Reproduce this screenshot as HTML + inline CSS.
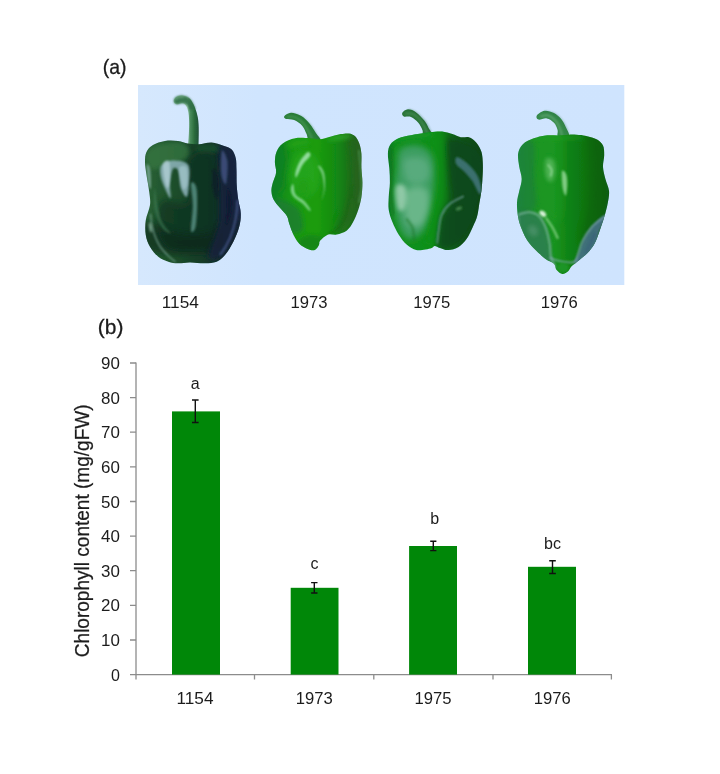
<!DOCTYPE html>
<html>
<head>
<meta charset="utf-8">
<title>Figure</title>
<style>
html,body{margin:0;padding:0;background:#fff;}
body{width:720px;height:774px;overflow:hidden;}
svg{display:block;}
text{font-family:"Liberation Sans",sans-serif;fill:#1c1c1c;}
</style>
</head>
<body>
<svg width="720" height="774" viewBox="0 0 720 774">
<defs>
<filter id="b1" x="-50%" y="-50%" width="200%" height="200%"><feGaussianBlur stdDeviation="1"/></filter>
<filter id="b2" x="-50%" y="-50%" width="200%" height="200%"><feGaussianBlur stdDeviation="2"/></filter>
<filter id="b3" x="-50%" y="-50%" width="200%" height="200%"><feGaussianBlur stdDeviation="3.2"/></filter>
<filter id="b5" x="-50%" y="-50%" width="200%" height="200%"><feGaussianBlur stdDeviation="5"/></filter>
<filter id="b8" x="-50%" y="-50%" width="200%" height="200%"><feGaussianBlur stdDeviation="8"/></filter>
<filter id="soft" x="-10%" y="-10%" width="120%" height="120%"><feGaussianBlur stdDeviation="0.6"/></filter>
<linearGradient id="bgg" x1="138" y1="0" x2="624" y2="0" gradientUnits="userSpaceOnUse"><stop offset="0" stop-color="#d6e8fd"/><stop offset="0.25" stop-color="#d0e5fe"/><stop offset="1" stop-color="#cfe4fe"/></linearGradient>
<!-- pepper 1 -->
<linearGradient id="p1g" x1="145" y1="0" x2="241" y2="0" gradientUnits="userSpaceOnUse">
<stop offset="0" stop-color="#2a6236"/><stop offset="0.25" stop-color="#1f522c"/><stop offset="0.55" stop-color="#163f28"/><stop offset="0.8" stop-color="#14302e"/><stop offset="0.92" stop-color="#1a2a40"/><stop offset="1" stop-color="#243254"/>
</linearGradient>
<clipPath id="p1c"><path id="p1body" d="M188.0,143.5 C184.5,143.0 181.8,141.4 178.0,141.0 C174.2,140.6 169.2,140.3 165.0,141.0 C160.8,141.7 156.1,143.2 153.0,145.0 C149.9,146.8 147.8,149.2 146.5,152.0 C145.2,154.8 145.0,158.2 145.0,162.0 C145.0,165.8 145.8,170.1 146.5,175.0 C147.2,179.9 148.6,186.7 149.2,191.7 C149.8,196.7 150.6,200.3 150.0,205.0 C149.4,209.7 146.5,215.0 145.8,220.0 C145.1,225.0 145.1,230.6 145.8,235.0 C146.5,239.4 147.9,243.1 150.0,246.7 C152.1,250.3 155.2,254.2 158.3,256.7 C161.4,259.2 165.0,260.6 168.3,261.7 C171.6,262.8 174.4,263.2 178.0,263.3 C181.6,263.4 185.5,262.5 190.0,262.5 C194.5,262.5 200.6,263.4 205.0,263.3 C209.4,263.2 213.4,263.1 216.7,261.7 C220.0,260.3 222.2,258.3 225.0,255.0 C227.8,251.7 230.9,246.4 233.3,241.7 C235.7,237.0 237.9,231.4 239.2,226.7 C240.4,222.0 241.0,217.8 240.8,213.3 C240.7,208.9 239.0,204.7 238.3,200.0 C237.6,195.3 237.0,190.0 236.7,185.0 C236.4,180.0 236.7,174.4 236.5,170.0 C236.3,165.6 236.6,161.7 235.8,158.3 C235.0,154.9 233.8,151.6 231.7,149.5 C229.6,147.4 226.6,147.0 223.3,145.8 C220.0,144.6 215.8,142.8 211.7,142.5 C207.6,142.2 202.8,144.0 198.8,144.2 C194.9,144.4 191.5,144.0 188.0,143.5Z"/></clipPath>
<linearGradient id="p1s" x1="186" y1="0" x2="200" y2="0" gradientUnits="userSpaceOnUse">
<stop offset="0.1" stop-color="#9ccbb0"/><stop offset="0.3" stop-color="#4a8c5c"/><stop offset="0.6" stop-color="#2a6c3c"/><stop offset="1" stop-color="#1c4836"/>
</linearGradient>
<!-- pepper 2 -->
<linearGradient id="p2g" x1="271" y1="0" x2="363" y2="0" gradientUnits="userSpaceOnUse">
<stop offset="0" stop-color="#0f8424"/><stop offset="0.25" stop-color="#1a9a12"/><stop offset="0.5" stop-color="#1c9c0e"/><stop offset="0.7" stop-color="#118a12"/><stop offset="0.88" stop-color="#1d6e1a"/><stop offset="1" stop-color="#2f6028"/>
</linearGradient>
<clipPath id="p2c"><path id="p2body" d="M309.7,138.3 C305.5,138.1 299.7,137.4 295.2,138.3 C290.7,139.1 285.9,141.2 282.8,143.5 C279.7,145.7 277.9,148.6 276.6,151.7 C275.2,154.8 275.0,158.6 274.9,162.1 C274.8,165.5 276.5,169.0 276.1,172.4 C275.8,175.9 273.6,179.7 272.8,182.8 C272.0,185.9 271.3,188.3 271.4,191.0 C271.5,193.8 272.1,196.6 273.4,199.3 C274.8,202.1 277.4,204.8 279.7,207.6 C281.9,210.4 285.3,213.1 286.9,215.9 C288.5,218.6 288.3,221.0 289.4,224.1 C290.5,227.3 291.7,231.2 293.3,234.5 C295.0,237.8 296.9,241.4 299.3,243.8 C301.7,246.2 305.0,247.9 307.6,249.0 C310.2,250.0 312.9,250.7 314.8,250.0 C316.7,249.3 318.1,246.4 319.0,244.8 C319.8,243.3 318.5,242.4 320.0,240.7 C321.6,239.0 325.5,235.5 328.3,234.5 C331.0,233.5 333.5,235.2 336.6,234.5 C339.7,233.8 344.1,232.4 346.9,230.4 C349.7,228.3 351.2,225.5 353.1,222.1 C355.0,218.6 356.9,213.8 358.3,209.7 C359.7,205.5 360.7,201.7 361.4,197.2 C362.1,192.8 362.4,187.6 362.4,182.8 C362.4,177.9 361.6,173.1 361.4,168.3 C361.2,163.5 361.7,157.9 361.4,153.8 C361.0,149.7 360.4,146.4 359.3,143.5 C358.3,140.5 356.9,137.9 355.2,136.2 C353.5,134.6 351.4,133.9 349.0,133.5 C346.6,133.2 344.1,133.5 340.7,134.1 C337.2,134.8 331.7,136.4 328.3,137.2 C324.8,138.1 323.1,139.1 320.0,139.3 C316.9,139.5 313.8,138.5 309.7,138.3Z"/></clipPath>
<!-- pepper 3 -->
<linearGradient id="p3g" x1="388" y1="0" x2="483" y2="0" gradientUnits="userSpaceOnUse">
<stop offset="0" stop-color="#0f7a26"/><stop offset="0.08" stop-color="#12901e"/><stop offset="0.5" stop-color="#10901a"/><stop offset="0.74" stop-color="#0f5a18"/><stop offset="1" stop-color="#0c4416"/>
</linearGradient>
<clipPath id="p3c"><path id="p3body" d="M423.9,133.1 C420.6,133.6 415.2,134.3 411.0,135.2 C406.8,136.0 402.1,136.7 398.6,138.3 C395.2,139.8 392.1,141.9 390.3,144.5 C388.6,147.1 388.0,149.8 387.9,153.8 C387.7,157.8 389.0,163.5 389.3,168.3 C389.7,173.1 390.0,177.9 389.9,182.8 C389.8,187.6 388.9,192.8 388.7,197.2 C388.5,201.7 388.1,205.5 388.7,209.7 C389.3,213.8 390.8,217.9 392.4,222.1 C394.1,226.2 396.2,230.7 398.6,234.5 C401.0,238.3 404.0,242.3 406.9,244.8 C409.8,247.4 413.1,249.3 416.2,250.0 C419.3,250.8 422.9,249.7 425.5,249.4 C428.1,249.0 430.2,248.5 431.7,247.9 C433.3,247.4 433.5,245.9 434.8,245.9 C436.2,245.9 437.8,247.3 440.0,247.9 C442.2,248.6 445.2,250.2 448.3,250.0 C451.4,249.8 455.5,248.8 458.6,246.9 C461.7,245.0 464.5,242.1 466.9,238.6 C469.3,235.2 471.4,230.0 473.1,226.2 C474.8,222.4 476.2,219.7 477.2,215.9 C478.3,212.1 478.6,207.6 479.3,203.5 C480.0,199.3 480.9,195.2 481.4,191.0 C481.9,186.9 482.2,183.1 482.4,178.6 C482.7,174.1 483.0,168.6 482.8,164.1 C482.7,159.7 482.5,155.3 481.4,151.7 C480.3,148.1 478.3,144.8 476.2,142.4 C474.1,140.0 471.6,138.1 469.0,137.2 C466.4,136.4 463.5,137.8 460.7,137.2 C457.9,136.7 455.5,135.1 452.4,134.1 C449.3,133.2 445.7,131.8 442.1,131.5 C438.5,131.1 433.7,131.8 430.7,132.1 C427.7,132.3 427.1,132.6 423.9,133.1Z"/></clipPath>
<!-- pepper 4 -->
<linearGradient id="p4g" x1="517" y1="0" x2="609" y2="0" gradientUnits="userSpaceOnUse">
<stop offset="0" stop-color="#1f8a3e"/><stop offset="0.12" stop-color="#1f9428"/><stop offset="0.4" stop-color="#1a9420"/><stop offset="0.55" stop-color="#108414"/><stop offset="0.78" stop-color="#0c7010"/><stop offset="1" stop-color="#0c5a14"/>
</linearGradient>
<clipPath id="p4c"><path id="p4body" d="M558.8,135.4 C555.0,135.5 549.8,134.9 545.6,135.4 C541.5,135.9 537.5,136.8 533.7,138.3 C529.9,139.7 525.5,141.6 522.9,144.2 C520.3,146.8 518.7,150.0 518.1,153.8 C517.6,157.6 518.7,162.8 519.3,166.9 C519.9,171.1 521.7,174.9 521.7,178.9 C521.7,182.9 520.1,186.9 519.3,190.8 C518.5,194.8 517.2,198.4 517.0,202.8 C516.8,207.2 517.4,212.8 518.1,217.1 C518.9,221.5 520.1,225.1 521.7,229.1 C523.3,233.1 525.3,237.5 527.7,241.0 C530.1,244.6 533.1,247.6 536.1,250.6 C539.1,253.6 542.7,256.8 545.6,259.0 C548.6,261.2 552.2,262.0 554.0,263.8 C555.8,265.6 555.0,268.0 556.4,269.7 C557.8,271.4 560.4,273.8 562.4,274.0 C564.4,274.2 566.8,272.2 568.4,270.9 C569.9,269.6 570.1,267.9 571.9,266.1 C573.7,264.4 576.5,262.4 579.1,260.2 C581.7,258.0 584.9,255.8 587.5,253.0 C590.1,250.2 592.7,247.0 594.6,243.4 C596.6,239.9 597.8,235.9 599.4,231.5 C601.0,227.1 602.8,221.9 604.2,217.1 C605.6,212.4 607.0,207.2 607.8,202.8 C608.6,198.4 609.4,194.8 609.0,190.8 C608.6,186.9 606.4,182.9 605.4,178.9 C604.4,174.9 603.2,170.9 603.0,166.9 C602.8,163.0 604.2,158.6 604.2,155.0 C604.2,151.4 604.2,148.0 603.0,145.4 C601.8,142.8 599.8,141.0 597.0,139.4 C594.3,137.9 589.7,136.7 586.3,135.9 C582.9,135.1 579.7,134.9 576.7,134.7 C573.7,134.5 571.3,134.5 568.4,134.7 C565.4,134.8 562.6,135.3 558.8,135.4Z"/></clipPath>
</defs>
<rect x="0" y="0" width="720" height="774" fill="#ffffff"/>

<!-- panel labels -->
<text x="102.8" y="74.4" font-size="21" textLength="23.8" lengthAdjust="spacingAndGlyphs" stroke="#1c1c1c" stroke-width="0.3">(a)</text>
<text x="97.8" y="334" font-size="21" textLength="25.6" lengthAdjust="spacingAndGlyphs" stroke="#1c1c1c" stroke-width="0.3">(b)</text>

<!-- photo background -->
<rect x="138" y="85" width="486.3" height="200" fill="url(#bgg)"/>

<g id="peppers">
<!-- pepper 1154 -->
<g filter="url(#soft)">
<path d="M187.8,146 C189,135 189.6,124 188.8,115.5 C188.2,109 186.5,104.5 183,103.3 C180.5,102.6 178.5,104.6 176.5,104.2 C174.2,103.6 173.3,101.6 174,99.5 C175.2,96.5 178.5,95.3 182,95.4 C186,95.6 189,97 191,100 C194.5,105 196.5,111 197.8,117.2 C198.6,122 198.8,127 198.75,130 C198.8,136 198.6,141 198.5,147 Z" fill="url(#p1s)"/>
<path d="M189.5,110 C188.5,105.5 186.5,103.5 183,103.3 C180.5,102.6 178.5,104.6 176.5,104.2 C174.2,103.6 173.3,101.6 174,99.5 C175.2,96.5 178.5,95.3 182,95.4 C186,95.6 189,97 191,100 C193,103 194.5,106 195.5,109 Z" fill="#2f6e44" opacity="0.9" filter="url(#b1)"/>
<path d="M175.5,99.5 C177.5,97 181,96.6 184,97.4" stroke="#7fb690" stroke-width="1.4" fill="none" opacity="0.7" filter="url(#b1)"/>
<use href="#p1body" fill="url(#p1g)"/>
<g clip-path="url(#p1c)">
<path d="M145.8,154.6 C146.8,150.5 151.2,146.3 157.5,144.4 C163.8,142.4 178.6,140.7 183.8,142.9 C188.9,145.1 190.6,153.9 188.1,157.5 C185.7,161.1 175.2,162.8 169.2,164.8 C163.1,166.7 155.6,170.9 151.7,169.2 C147.8,167.5 144.9,158.7 145.8,154.6Z" fill="#347540" opacity="0.8" filter="url(#b2)"/>
<ellipse cx="208.5" cy="148.8" rx="13.1" ry="4.4" fill="#1f5a30" opacity="0.7" filter="url(#b2)"/>
<path d="M188.1,159.0 C192.7,151.2 210.7,148.0 215.8,154.6 C220.9,161.1 218.8,185.0 218.8,198.3 C218.8,211.7 219.7,226.5 215.8,234.8 C211.9,243.1 203.2,245.7 195.4,247.9 C187.6,250.1 175.5,251.3 169.2,247.9 C162.8,244.5 158.7,235.3 157.5,227.5 C156.3,219.7 156.8,205.6 161.9,201.3 C167.0,196.9 183.8,208.3 188.1,201.3 C192.5,194.2 183.5,166.7 188.1,159.0Z" fill="#103322" opacity="0.7" filter="url(#b3)"/>
<path d="M145.8,221.7 C149.7,218.3 159.2,228.5 169.2,230.4 C179.1,232.4 193.7,235.8 205.6,233.3 C217.5,230.9 234.8,212.9 240.6,215.8 C246.5,218.8 256.4,245.0 240.6,250.8 C224.8,256.7 161.6,255.7 145.8,250.8 C130.0,246.0 141.9,225.1 145.8,221.7Z" fill="#0c271a" opacity="0.6" filter="url(#b3)"/>
<path d="M219.5,145.8 C221.9,140.5 230.3,146.6 233.3,151.7 C236.4,156.8 236.3,167.5 237.7,176.5 C239.2,185.5 242.3,196.1 242.1,205.6 C241.8,215.1 239.4,225.1 236.3,233.3 C233.1,241.6 227.7,251.3 223.1,255.2 C218.5,259.1 209.3,262.3 208.5,256.7 C207.8,251.1 217.1,233.8 218.8,221.7 C220.5,209.5 218.6,196.4 218.8,183.8 C218.9,171.1 217.1,151.2 219.5,145.8Z" fill="#18223c" opacity="0.8" filter="url(#b2)"/>
<path d="M222.4,150.2 C223.5,150.2 226.9,156.3 227.5,161.9 C228.1,167.5 227.0,181.3 226.0,183.8 C225.1,186.2 222.5,180.1 221.7,176.5 C220.8,172.8 220.8,166.3 220.9,161.9 C221.1,157.5 221.3,150.2 222.4,150.2Z" fill="#4b5c8e" opacity="0.7" filter="url(#b1)"/>
<path d="M227.5,188.1 C228.1,186.9 230.7,194.2 231.1,198.3 C231.6,202.5 231.3,208.5 230.4,212.9 C229.6,217.3 226.5,225.8 226.0,224.6 C225.6,223.4 227.3,211.7 227.5,205.6 C227.7,199.5 226.9,189.3 227.5,188.1Z" fill="#10182e" opacity="0.7" filter="url(#b1)"/>
<path d="M212.9,169.2 C213.9,167.5 218.0,173.1 218.8,177.9 C219.5,182.8 218.3,196.6 217.3,198.3 C216.3,200.0 213.6,193.0 212.9,188.1 C212.2,183.3 211.9,170.9 212.9,169.2Z" fill="#0e1a2c" opacity="0.7" filter="url(#b1)"/>
<path d="M161.9,164.8 C164.1,162.4 169.2,160.4 173.5,160.4 C177.9,160.4 185.6,160.9 188.1,164.8 C190.7,168.7 189.1,178.4 188.9,183.8 C188.6,189.1 188.0,196.1 186.7,196.9 C185.3,197.6 182.2,192.5 180.8,188.1 C179.4,183.8 179.5,173.8 178.2,170.6 C176.9,167.5 174.2,167.0 172.8,169.2 C171.4,171.4 170.3,178.9 169.9,183.8 C169.5,188.6 171.5,197.6 170.6,198.3 C169.8,199.1 166.5,192.0 164.8,188.1 C163.1,184.2 160.9,178.9 160.4,175.0 C159.9,171.1 159.7,167.2 161.9,164.8Z" fill="#8fb4bc" opacity="0.85" filter="url(#b1)"/>
<path d="M163.3,163.3 C164.2,160.7 168.1,159.4 169.2,161.9 C170.3,164.3 170.1,173.5 169.9,177.9 C169.7,182.3 168.7,188.1 167.7,188.1 C166.7,188.1 164.8,182.0 164.1,177.9 C163.3,173.8 162.5,166.0 163.3,163.3Z" fill="#b8d4dc" opacity="0.7" filter="url(#b1)"/>
<path d="M179.4,167.7 C180.3,165.5 185.3,165.0 186.7,167.7 C188.0,170.4 187.9,180.1 187.4,183.8 C186.9,187.4 184.8,190.1 183.8,189.6 C182.7,189.1 181.6,184.5 180.8,180.8 C180.1,177.2 178.4,169.9 179.4,167.7Z" fill="#a4c6cc" opacity="0.7" filter="url(#b1)"/>
<path d="M191.0,183.8 C191.6,180.6 195.1,183.0 196.1,186.7 C197.2,190.3 197.3,198.8 197.2,205.6 C197.0,212.4 196.4,223.4 195.4,227.5 C194.4,231.6 191.5,234.1 191.0,230.4 C190.6,226.8 192.8,213.4 192.8,205.6 C192.8,197.8 190.5,186.9 191.0,183.8Z" fill="#5c9488" opacity="0.8" filter="url(#b1)"/>
<path d="M146.6,164.8 C146.9,162.4 149.5,165.3 150.2,169.2 C150.9,173.1 151.3,185.7 150.9,188.1 C150.6,190.6 148.8,187.6 148.0,183.8 C147.3,179.9 146.2,167.2 146.6,164.8Z" fill="#8ab6a8" opacity="0.7" filter="url(#b1)"/>
<path d="M154.6,188.1 C155.1,187.4 156.3,200.0 157.5,205.6 C158.7,211.2 159.7,217.1 161.9,221.7 C164.1,226.3 170.6,232.4 170.6,233.3 C170.6,234.3 164.5,231.4 161.9,227.5 C159.2,223.6 155.8,216.6 154.6,210.0 C153.4,203.4 154.1,188.9 154.6,188.1Z" fill="#3f7d55" opacity="0.6" filter="url(#b1)"/>
<ellipse cx="150.5" cy="227.5" rx="1.5" ry="5.1" fill="#9cc8b0" transform="rotate(-10 150.5 227.5)" opacity="0.7" filter="url(#b1)"/>
<path d="M150.5,214 C151,226 155,240 161.5,248.5 C165,253 170,258 175.5,262" fill="none" stroke="#86b4a4" stroke-width="1.3" opacity="0.75" filter="url(#b1)"/>
<path d="M237.5,200 C237.5,214 234,228 230,238 C227,245 224,250 220,255" fill="none" stroke="#4a5a8e" stroke-width="2.2" opacity="0.75" filter="url(#b1)"/>
</g>
</g>
<!-- pepper 1973 -->
<g filter="url(#soft)">
<path d="M284.4,116.1 C285.3,115.1 288.2,112.8 291.0,112.8 C293.9,112.8 298.3,114.3 301.4,116.1 C304.5,118.0 307.2,121.0 309.7,123.8 C312.1,126.6 314.1,130.3 315.9,133.1 C317.7,135.9 321.5,139.2 320.4,140.3 C319.3,141.5 311.6,140.8 309.2,139.7 C306.9,138.7 307.7,136.5 306.6,134.1 C305.4,131.8 304.5,128.2 302.4,125.9 C300.3,123.5 296.9,121.2 294.1,120.1 C291.4,118.9 287.5,119.7 285.9,119.0 C284.2,118.4 283.6,117.2 284.4,116.1Z" fill="#2c7f3a"/>
<path d="M287.9,117.0 C289.0,116.9 291.7,115.7 294.1,116.6 C296.6,117.4 300.1,119.9 302.4,122.3 C304.7,124.8 306.5,128.4 308.0,131.0 C309.6,133.7 311.1,137.1 311.7,138.3" fill="none" stroke="#5aa868" stroke-width="1.6" stroke-linecap="round" opacity="0.6" filter="url(#b1)"/><path d="M291.0,113.7 C292.8,114.2 298.3,115.1 301.4,117.0 C304.5,118.8 307.3,122.1 309.7,124.8 C312.0,127.6 313.9,131.1 315.5,133.5 C317.0,135.9 318.4,138.3 319.0,139.3" fill="none" stroke="#1d6a2c" stroke-width="1.4" stroke-linecap="round" opacity="0.5" filter="url(#b1)"/>
<use href="#p2body" fill="url(#p2g)"/>
<g clip-path="url(#p2c)">
<path d="M272.8,143.9 C274.6,138.3 280.0,136.0 282.5,138.3 C285.0,140.6 287.6,151.5 288.1,157.8 C288.5,164.0 286.0,170.7 285.3,175.8 C284.6,180.9 286.0,184.9 283.9,188.3 C281.8,191.8 275.1,197.1 272.8,196.7 C270.5,196.2 270.2,189.7 270.0,185.6 C269.8,181.4 270.9,178.6 271.4,171.7 C271.9,164.7 270.9,149.4 272.8,143.9Z" fill="#0e7a26" opacity="0.6" filter="url(#b3)"/>
<path d="M347.8,138.3 C349.7,136.0 359.1,136.0 361.7,143.9 C364.2,151.8 364.0,174.9 363.1,185.6 C362.1,196.2 359.6,200.8 356.1,207.8 C352.6,214.7 345.7,223.5 342.2,227.2 C338.8,230.9 334.8,233.2 335.3,230.0 C335.7,226.8 342.5,215.6 345.0,207.8 C347.5,199.9 349.7,191.1 350.6,182.8 C351.4,174.4 350.3,165.2 349.9,157.8 C349.4,150.4 345.8,140.6 347.8,138.3Z" fill="#26621f" opacity="0.6" filter="url(#b3)"/>
<path d="M272.8,198.1 C274.2,196.1 282.5,199.9 286.7,201.5 C290.8,203.1 295.2,204.9 297.8,207.8 C300.4,210.7 301.6,215.0 302.2,218.9 C302.8,222.8 304.3,229.3 301.2,231.4 C298.2,233.5 287.7,234.4 283.9,231.4 C280.1,228.4 280.2,218.9 278.3,213.3 C276.5,207.8 271.4,200.0 272.8,198.1Z" fill="#1a7a34" opacity="0.75" filter="url(#b2)"/>
<ellipse cx="339.4" cy="137.6" rx="12.5" ry="2.8" fill="#3cb030" transform="rotate(-8 339.4 137.6)" opacity="0.65" filter="url(#b2)"/>
<ellipse cx="297.8" cy="143.9" rx="12.5" ry="3.1" fill="#2aa520" transform="rotate(-10 297.8 143.9)" opacity="0.6" filter="url(#b2)"/>
<ellipse cx="304.7" cy="174.4" rx="15.3" ry="23.6" fill="#2fae26" opacity="0.5" filter="url(#b3)"/>
<path d="M307.5,152.2 C305.8,153.1 301.8,158.0 299.9,161.2 C297.9,164.5 296.3,169.0 295.7,171.7 C295.1,174.3 295.2,178.4 296.4,177.2 C297.5,176.1 300.3,168.3 302.6,164.7 C305.0,161.1 309.5,157.8 310.3,155.7 C311.1,153.6 309.2,151.3 307.5,152.2Z" fill="#a6e6b4" opacity="0.85" filter="url(#b1)"/>
<path d="M292.2,184.2 C291.8,184.9 290.6,187.6 290.8,189.7 C291.1,191.8 291.6,194.4 293.6,196.7 C295.6,199.0 300.1,201.3 302.6,203.6 C305.2,205.9 307.6,209.6 308.9,210.6 C310.2,211.5 311.1,210.8 310.3,209.2 C309.5,207.5 306.5,203.3 304.0,200.8 C301.6,198.4 297.4,197.1 295.7,194.6 C294.0,192.0 294.2,187.3 293.6,185.6 C293.0,183.8 292.7,183.5 292.2,184.2Z" fill="#96e0a4" opacity="0.8" filter="url(#b1)"/>
<path d="M317.9,166.1 C318.1,167.4 321.1,170.7 322.1,174.4 C323.1,178.1 324.0,184.1 323.9,188.3 C323.8,192.6 321.5,200.1 321.7,200.1 C321.8,200.1 324.4,192.6 324.9,188.3 C325.3,184.1 325.1,178.0 324.4,174.4 C323.8,170.9 321.8,168.2 320.7,166.8 C319.6,165.4 317.7,164.8 317.9,166.1Z" fill="#a0e2ac" opacity="0.75" filter="url(#b1)"/>
<ellipse cx="303.3" cy="188.3" rx="5.6" ry="8.3" fill="#1c9a18" opacity="0.5" filter="url(#b2)"/>
<path d="M358.9,150.8 C359.2,154.3 360.5,165.4 361.0,171.7 C361.4,177.9 362.0,183.2 361.7,188.3 C361.3,193.4 359.4,199.9 358.9,202.2" fill="none" stroke="#62ac68" stroke-width="2.0" stroke-linecap="round" opacity="0.45" filter="url(#b1)"/>
<path d="M352,186 C352,200 349,212 345,220 C341,227 336,231 329,234" fill="none" stroke="#1a6818" stroke-width="2.4" opacity="0.6" filter="url(#b1)"/>
<ellipse cx="312" cy="243" rx="14" ry="8" fill="#157a1c" opacity="0.6" filter="url(#b2)"/>
<path d="M352,196 C357,205 354,220 346,230 L336,234 C344,226 349,214 350,200Z" fill="#2a6a20" opacity="0.55" filter="url(#b1)"/>
</g>
</g>
<!-- pepper 1975 -->
<g filter="url(#soft)">
<path d="M402.3,112.8 C403.0,111.6 405.6,109.4 407.9,109.3 C410.2,109.2 413.5,110.5 416.2,112.4 C419.0,114.3 422.4,118.1 424.5,120.7 C426.6,123.3 427.5,125.9 428.6,127.9 C429.7,130.0 432.0,132.0 431.1,133.1 C430.2,134.2 424.9,134.9 423.5,134.3 C422.0,133.8 423.3,131.9 422.4,130.0 C421.6,128.1 420.2,124.9 418.3,122.8 C416.4,120.6 413.5,118.0 411.0,117.0 C408.6,115.9 405.2,117.2 403.8,116.6 C402.3,115.9 401.7,114.0 402.3,112.8Z" fill="#2a7438"/>
<path d="M405.9,113.7 C407.1,113.7 410.7,112.7 413.1,113.7 C415.5,114.7 418.3,117.3 420.3,119.7 C422.3,122.0 424.0,125.7 425.1,127.9 C426.2,130.2 426.8,132.2 427.2,133.1" fill="none" stroke="#5aa06a" stroke-width="1.6" stroke-linecap="round" opacity="0.6" filter="url(#b1)"/><path d="M409.0,109.9 C410.3,110.5 414.2,111.3 416.8,113.2 C419.5,115.2 422.7,119.0 424.7,121.5 C426.7,124.1 427.8,126.7 428.8,128.6 C429.8,130.4 430.4,132.0 430.7,132.7" fill="none" stroke="#1c5a2c" stroke-width="1.4" stroke-linecap="round" opacity="0.5" filter="url(#b1)"/>
<use href="#p3body" fill="url(#p3g)"/>
<g clip-path="url(#p3c)">
<path d="M446.8,140.0 C449.4,134.3 458.2,139.5 463.9,141.4 C469.5,143.3 477.5,145.7 480.9,151.4 C484.3,157.0 484.5,167.5 484.5,175.5 C484.5,183.6 483.4,190.4 480.9,199.7 C478.4,208.9 474.3,222.9 469.5,230.9 C464.8,239.0 457.8,245.1 452.5,248.0 C447.2,250.8 439.7,252.7 437.6,248.0 C435.5,243.2 437.6,227.4 439.7,219.5 C441.8,211.7 448.9,208.4 450.4,201.1 C451.8,193.7 448.8,185.7 448.2,175.5 C447.6,165.3 444.2,145.7 446.8,140.0Z" fill="#0f471c" opacity="0.85" filter="url(#b3)"/>
<path d="M431.2,134.3 C433.0,127.5 441.0,128.6 443.3,134.3 C445.5,140.0 444.7,158.0 444.7,168.4 C444.7,178.8 444.5,189.2 443.3,196.8 C442.1,204.4 439.1,206.8 437.6,213.9 C436.0,221.0 436.0,234.7 434.0,239.4 C432.0,244.2 426.2,247.0 425.5,242.3 C424.8,237.5 428.6,222.1 429.8,211.0 C431.0,199.9 432.4,188.3 432.6,175.5 C432.9,162.7 429.4,141.2 431.2,134.3Z" fill="#0f9018" opacity="0.7" filter="url(#b3)"/>
<ellipse cx="411.3" cy="136.4" rx="22.7" ry="4.3" fill="#18982a" transform="rotate(-5 411.3 136.4)" opacity="0.7" filter="url(#b2)"/>
<path d="M399.9,149.9 C403.5,146.2 413.0,144.5 418.4,145.7 C423.9,146.9 430.0,150.2 432.6,157.0 C435.2,163.9 434.7,177.4 434.0,186.9 C433.3,196.3 430.2,206.3 428.4,213.9 C426.5,221.4 426.2,228.3 422.7,232.3 C419.1,236.4 411.3,240.1 407.0,238.0 C402.8,235.9 399.2,226.9 397.1,219.5 C395.0,212.2 394.3,202.5 394.3,194.0 C394.3,185.5 396.2,175.7 397.1,168.4 C398.0,161.1 396.4,153.7 399.9,149.9Z" fill="#4aa274" opacity="0.8" filter="url(#b3)"/>
<path d="M404.2,159.9 C407.0,156.1 419.8,156.3 424.1,158.5 C428.4,160.6 430.0,168.4 429.8,172.7 C429.5,176.9 426.5,182.6 422.7,184.0 C418.9,185.5 410.1,185.2 407.0,181.2 C404.0,177.2 401.4,163.7 404.2,159.9Z" fill="#74b898" opacity="0.5" filter="url(#b3)"/>
<path d="M395.7,186.9 C396.7,183.1 402.3,183.8 404.2,185.5 C406.1,187.1 407.0,192.8 407.0,196.8 C407.0,200.8 405.7,207.7 404.2,209.6 C402.7,211.5 399.2,212.0 397.8,208.2 C396.4,204.4 394.6,190.7 395.7,186.9Z" fill="#b4dcc4" opacity="0.7" filter="url(#b2)"/>
<path d="M405.6,191.1 C408.7,185.5 421.6,185.7 425.5,188.3 C429.4,190.9 429.8,200.6 429.1,206.8 C428.4,212.9 424.9,222.6 421.2,225.2 C417.6,227.8 409.6,228.1 407.0,222.4 C404.4,216.7 402.5,196.8 405.6,191.1Z" fill="#88c6a4" opacity="0.6" filter="url(#b3)"/>
<path d="M407.0,219.5 C408.0,221.0 411.5,224.8 412.7,228.1 C413.9,231.4 413.9,237.5 414.1,239.4" fill="none" stroke="#1a7a2a" stroke-width="3" stroke-linecap="round" opacity="0.5" filter="url(#b1)"/>
<path d="M456.8,157.0 C458.5,156.8 463.4,159.9 466.7,162.7 C470.0,165.6 474.2,169.8 476.6,174.1 C479.1,178.4 481.1,185.0 481.6,188.3 C482.1,191.6 481.0,195.2 479.5,194.0 C477.9,192.8 475.0,185.0 472.4,181.2 C469.8,177.4 466.6,174.1 463.9,171.2 C461.1,168.4 457.2,166.5 456.1,164.1 C454.9,161.8 455.0,157.3 456.8,157.0Z" fill="#44777e" opacity="0.85" filter="url(#b1)"/>
<path d="M463.2,196.5 C460.9,197.8 453.3,200.8 449.7,203.9 C446.0,207.0 443.3,210.8 441.4,215.3 C439.6,219.8 439.3,226.3 438.6,230.9 C437.9,235.5 437.4,241.0 437.2,243.0" fill="none" stroke="#6a9a98" stroke-width="1.7" stroke-linecap="round" opacity="0.85" filter="url(#b1)"/>
<ellipse cx="458.9" cy="208.5" rx="3.4" ry="1.7" fill="#5c9c62" transform="rotate(-20 458.9 208.5)" opacity="0.7" filter="url(#b1)"/>
<path d="M391.1,148.5 C391.2,151.8 391.7,160.8 391.7,168.4 C391.7,176.0 390.8,186.4 391.1,194.0 C391.4,201.6 393.1,210.5 393.6,213.9" fill="none" stroke="#17701f" stroke-width="2.5" stroke-linecap="round" opacity="0.5" filter="url(#b1)"/>
</g>
</g>
<!-- pepper 1976 -->
<g filter="url(#soft)">
<path d="M536.8,115.5 C537.8,114.1 541.6,111.2 544.4,110.8 C547.3,110.4 551.2,111.8 554.0,113.1 C556.8,114.5 559.2,116.7 561.2,119.1 C563.2,121.5 564.7,124.7 566.0,127.5 C567.2,130.3 570.1,134.3 568.8,135.9 C567.6,137.4 560.2,137.6 558.3,136.6 C556.4,135.6 558.3,132.2 557.6,129.9 C556.9,127.6 555.8,124.6 554.0,122.7 C552.2,120.8 549.4,118.9 546.8,118.4 C544.2,117.9 540.1,120.1 538.5,119.6 C536.8,119.1 535.8,117.0 536.8,115.5Z" fill="#35894a"/>
<path d="M540.9,116.3 C542.1,116.1 545.6,114.5 548.0,115.3 C550.5,116.1 553.7,118.8 555.7,121.0 C557.7,123.3 558.9,126.3 560.0,128.7 C561.0,131.1 561.6,134.3 561.9,135.4" fill="none" stroke="#7cba8c" stroke-width="1.6" stroke-linecap="round" opacity="0.6" filter="url(#b1)"/><path d="M545.6,111.5 C547.1,111.9 551.6,112.4 554.2,113.9 C556.9,115.3 559.5,117.7 561.4,120.1 C563.4,122.5 564.8,125.7 566.0,128.2 C567.1,130.7 567.8,133.8 568.1,134.9" fill="none" stroke="#23703a" stroke-width="1.4" stroke-linecap="round" opacity="0.5" filter="url(#b1)"/>
<use href="#p4body" fill="url(#p4g)"/>
<g clip-path="url(#p4c)">
<path d="M589.4,134.6 C591.2,128.7 599.4,135.1 601.7,140.7 C604.0,146.3 602.1,159.8 603.2,168.2 C604.3,176.6 608.3,183.2 608.5,191.1 C608.8,199.0 606.9,207.4 604.7,215.6 C602.6,223.7 599.4,235.9 595.6,240.0 C591.7,244.1 582.8,245.6 581.8,240.0 C580.8,234.4 587.9,217.1 589.4,206.4 C591.0,195.7 591.0,187.8 591.0,175.8 C591.0,163.9 587.7,140.4 589.4,134.6Z" fill="#0b6410" opacity="0.6" filter="url(#b3)"/>
<path d="M518.4,148.3 C519.9,144.3 525.5,139.2 528.3,139.2 C531.1,139.2 534.2,142.2 535.2,148.3 C536.2,154.4 534.4,166.2 534.4,175.8 C534.4,185.5 537.8,199.8 535.2,206.4 C532.7,213.0 522.1,216.8 519.2,215.6 C516.2,214.3 517.3,204.6 517.6,198.8 C518.0,192.9 521.2,186.3 521.5,180.4 C521.7,174.6 519.7,169.0 519.2,163.6 C518.7,158.3 516.9,152.4 518.4,148.3Z" fill="#1f7d3c" opacity="0.6" filter="url(#b2)"/>
<path d="M537.5,139.2 C541.7,132.5 557.6,130.0 561.9,136.1 C566.3,142.2 563.5,162.6 563.5,175.8 C563.5,189.1 563.7,207.9 561.9,215.6 C560.2,223.2 556.3,223.7 552.8,221.7 C549.2,219.6 543.2,211.0 540.6,203.3 C537.9,195.7 537.2,186.5 536.7,175.8 C536.2,165.1 533.3,145.8 537.5,139.2Z" fill="#1c9a20" opacity="0.45" filter="url(#b3)"/>
<ellipse cx="555.8" cy="137.6" rx="29.0" ry="2.4" fill="#26a02c" opacity="0.55" filter="url(#b2)"/>
<path d="M545.9,159.0 C547.2,156.5 552.0,158.3 553.5,160.6 C555.1,162.8 555.5,169.2 555.1,172.8 C554.7,176.3 552.8,181.4 551.3,181.9 C549.7,182.5 546.8,179.7 545.9,175.8 C545.0,172.0 544.6,161.6 545.9,159.0Z" fill="#74c878" opacity="0.6" filter="url(#b2)"/>
<path d="M561.9,171.3 C562.5,169.0 565.3,172.0 566.2,174.3 C567.1,176.6 567.4,181.4 567.3,185.0 C567.2,188.6 566.5,195.2 565.8,195.7 C565.0,196.2 563.3,192.1 562.7,188.1 C562.1,184.0 561.4,173.5 561.9,171.3Z" fill="#a4e2a6" opacity="0.75" filter="url(#b1)"/>
<path d="M548.2,165.1 C548.8,165.9 551.1,167.9 551.6,169.7 C552.0,171.5 551.0,174.8 550.9,175.8" fill="none" stroke="#b0e8b2" stroke-width="1.6" stroke-linecap="round" opacity="0.7" filter="url(#b1)"/>
<path d="M517.1,214.2 C519.1,211.6 525.5,211.9 529.2,212.2 C532.8,212.5 536.1,213.5 538.9,216.1 C541.6,218.7 543.9,223.2 545.7,227.8 C547.5,232.3 548.7,238.5 549.6,243.3 C550.5,248.2 550.0,252.9 550.9,256.9 C551.9,261.0 557.4,267.3 555.4,267.6 C553.4,268.0 543.9,262.9 538.9,258.9 C533.9,254.8 528.8,248.5 525.3,243.3 C521.7,238.1 518.9,232.6 517.5,227.8 C516.1,222.9 515.2,216.8 517.1,214.2Z" fill="#2e7e52" opacity="0.85" filter="url(#b2)"/>
<ellipse cx="533.1" cy="230.7" rx="4.3" ry="5.8" fill="#5a9a78" transform="rotate(-30 533.1 230.7)" opacity="0.6" filter="url(#b2)"/>
<path d="M518.5,214.6 C520.3,214.2 525.8,212.0 529.2,212.2 C532.6,212.5 536.1,213.5 538.9,216.1 C541.6,218.7 543.9,223.2 545.7,227.8 C547.5,232.3 548.7,238.5 549.6,243.3 C550.5,248.2 550.0,253.1 550.9,256.9 C551.9,260.8 554.3,265.0 555.0,266.7" fill="none" stroke="#86b8aa" stroke-width="1.8" stroke-linecap="round" opacity="0.8" filter="url(#b1)"/>
<path d="M518.5,216.1 C518.6,218.1 518.3,223.2 519.4,227.8 C520.6,232.3 522.7,238.8 525.3,243.3 C527.9,247.9 533.4,253.1 535.0,255.0" fill="none" stroke="#7ab09a" stroke-width="1.6" stroke-linecap="round" opacity="0.5" filter="url(#b1)"/>
<ellipse cx="542.8" cy="213.8" rx="3.9" ry="2.5" fill="#f2fff2" transform="rotate(40 542.8 213.8)" opacity="0.9" filter="url(#b1)"/>
<path d="M546.3,218.4 C547.4,220.1 551.0,224.9 552.9,228.2 C554.8,231.4 556.8,236.3 557.6,237.9" fill="none" stroke="#9ce09c" stroke-width="2.2" stroke-linecap="round" opacity="0.7" filter="url(#b1)"/>
<path d="M605.8,214.5 C603.9,215.2 597.2,220.5 593.4,224.8 C589.6,229.1 585.6,235.5 583.1,240.3 C580.6,245.2 579.9,250.0 578.4,253.8 C577.0,257.6 573.4,261.7 574.3,263.1 C575.2,264.5 581.1,263.6 584.1,262.0 C587.1,260.5 590.2,257.2 592.4,253.8 C594.6,250.3 596.4,245.2 597.6,241.4 C598.8,237.6 598.4,234.5 599.6,231.0 C600.8,227.6 603.8,223.4 604.8,220.7 C605.8,217.9 607.7,213.8 605.8,214.5Z" fill="#4a6f8c" opacity="0.85" filter="url(#b1)"/>
<path d="M604.3,216.5 C602.2,218.3 595.6,222.8 591.9,226.9 C588.2,231.0 584.6,236.9 582.3,241.4 C580.0,245.8 579.5,250.3 578.1,253.8 C576.7,257.2 577.0,260.8 574.0,262.0 C571.0,263.3 564.3,261.9 560.3,261.2 C556.3,260.5 551.7,258.5 550.0,257.9" fill="none" stroke="#8fb0c4" stroke-width="1.6" stroke-linecap="round" opacity="0.75" filter="url(#b1)"/>
<path d="M594.5,234.1 C593.8,235.7 591.7,240.5 590.3,243.4 C589.0,246.4 586.9,250.3 586.2,251.7" fill="none" stroke="#35587a" stroke-width="2.4" stroke-linecap="round" opacity="0.5" filter="url(#b1)"/>
<ellipse cx="563.2" cy="267.6" rx="5.8" ry="4.3" fill="#22982a" opacity="0.8" filter="url(#b1)"/>
</g>
</g>
</g>

<!-- photo labels -->
<g font-size="16" text-anchor="middle">
<text x="180.3" y="308" textLength="37" lengthAdjust="spacingAndGlyphs">1154</text>
<text x="309" y="308" textLength="37" lengthAdjust="spacingAndGlyphs">1973</text>
<text x="431.7" y="308" textLength="37" lengthAdjust="spacingAndGlyphs">1975</text>
<text x="559.3" y="308" textLength="37" lengthAdjust="spacingAndGlyphs">1976</text>
</g>

<!-- chart -->
<g id="chart">
<g stroke="#8c8c8c" stroke-width="1.3" fill="none">
<path d="M136 362.4V679.6"/>
<path d="M130 674.7H612"/>
<path d="M130 363H136M130 397.6H136M130 432.2H136M130 466.8H136M130 501.5H136M130 536.1H136M130 570.7H136M130 605.3H136M130 640H136"/>
<path d="M254.5 674.7V679.6M373.8 674.7V679.6M493 674.7V679.6M611.4 674.7V679.6"/>
</g>
<g fill="#008708">
<rect x="172" y="411.4" width="48" height="263.2"/>
<rect x="290.7" y="587.8" width="47.8" height="86.8"/>
<rect x="409.1" y="546" width="47.9" height="128.6"/>
<rect x="528" y="566.8" width="48" height="107.8"/>
</g>
<g stroke="#111" stroke-width="1.4" fill="none">
<path d="M195.3 400V422.5M192 400H198.6M192 422.5H198.6"/>
<path d="M314.3 582.6V593M311.1 582.6H317.5M311.1 593H317.5"/>
<path d="M433.3 541.2V550.6M430.2 541.2H436.4M430.2 550.6H436.4"/>
<path d="M552.5 560.8V573.5M549.2 560.8H555.8M549.2 573.5H555.8"/>
</g>
<g font-size="16" text-anchor="middle">
<text x="195.3" y="388.8">a</text>
<text x="314.6" y="568.8">c</text>
<text x="434.6" y="524.4">b</text>
<text x="552.5" y="548.5">bc</text>
</g>
<g font-size="16" text-anchor="end">
<text x="119.8" y="369" textLength="18.8" lengthAdjust="spacingAndGlyphs">90</text>
<text x="119.8" y="403.6" textLength="18.8" lengthAdjust="spacingAndGlyphs">80</text>
<text x="119.8" y="438.2" textLength="18.8" lengthAdjust="spacingAndGlyphs">70</text>
<text x="119.8" y="472.8" textLength="18.8" lengthAdjust="spacingAndGlyphs">60</text>
<text x="119.8" y="507.5" textLength="18.8" lengthAdjust="spacingAndGlyphs">50</text>
<text x="119.8" y="542.1" textLength="18.8" lengthAdjust="spacingAndGlyphs">40</text>
<text x="119.8" y="576.7" textLength="18.8" lengthAdjust="spacingAndGlyphs">30</text>
<text x="119.8" y="611.3" textLength="18.8" lengthAdjust="spacingAndGlyphs">20</text>
<text x="119.8" y="646" textLength="18.8" lengthAdjust="spacingAndGlyphs">10</text>
<text x="119.8" y="680.6">0</text>
</g>
<g font-size="16" text-anchor="middle">
<text x="195" y="703.8" textLength="37" lengthAdjust="spacingAndGlyphs">1154</text>
<text x="314.2" y="703.8" textLength="37" lengthAdjust="spacingAndGlyphs">1973</text>
<text x="433" y="703.8" textLength="37" lengthAdjust="spacingAndGlyphs">1975</text>
<text x="552.3" y="703.8" textLength="37" lengthAdjust="spacingAndGlyphs">1976</text>
</g>
<text transform="translate(89,657.2) rotate(-90)" font-size="19.6" textLength="252.8" lengthAdjust="spacingAndGlyphs" stroke="#1c1c1c" stroke-width="0.25">Chlorophyll content (mg/gFW)</text>
</g>
</svg>
</body>
</html>
